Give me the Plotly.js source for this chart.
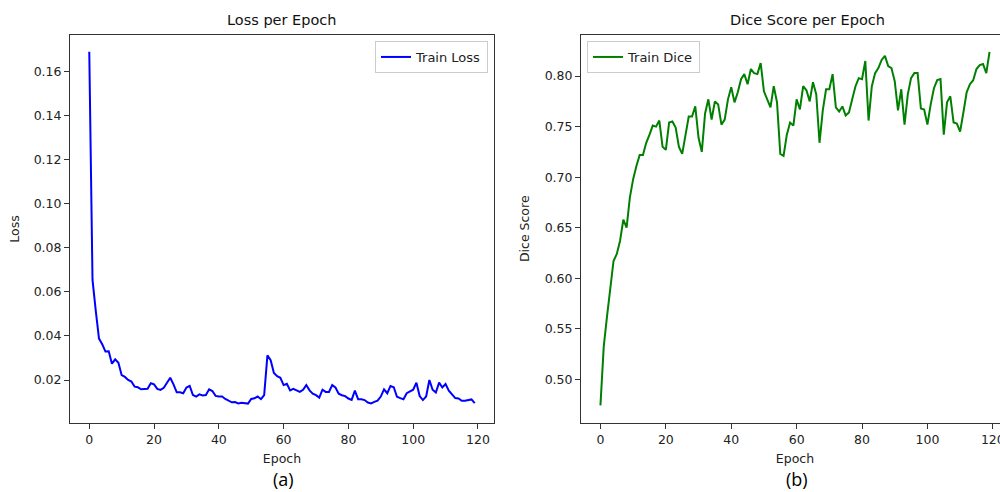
<!DOCTYPE html>
<html>
<head>
<meta charset="utf-8">
<script src="https://cdn.plot.ly/plotly-3.0.1.min.js"></script>
<style>
html,body{margin:0;padding:0;overflow:hidden;background:#fff;}
#chart{width:1020px;height:492px;}
</style>
</head>
<body>
<div id="chart"></div>
<script>
// Data (epochs 0..119)
const trainLoss = [
  0.1689, 0.0654, 0.0515, 0.0388, 0.0362, 0.0329, 0.0330, 0.0274, 0.0294, 0.0278,
  0.0222, 0.0214, 0.0200, 0.0193, 0.0170, 0.0167, 0.0158, 0.0160, 0.0160, 0.0185,
  0.0180, 0.0160, 0.0155, 0.0165, 0.0185, 0.0210, 0.0180, 0.0144, 0.0144, 0.0140,
  0.0166, 0.0173, 0.0132, 0.0125, 0.0135, 0.0130, 0.0132, 0.0158, 0.0150, 0.0128,
  0.0125, 0.0125, 0.0114, 0.0107, 0.0099, 0.0100, 0.0094, 0.0097, 0.0094, 0.0093,
  0.0114, 0.0117, 0.0125, 0.0113, 0.0132, 0.0312, 0.0290, 0.0232, 0.0217, 0.0210,
  0.0177, 0.0183, 0.0153, 0.0160, 0.0153, 0.0146, 0.0156, 0.0177, 0.0153, 0.0138,
  0.0131, 0.0120, 0.0156, 0.0146, 0.0146, 0.0177, 0.0166, 0.0138, 0.0131, 0.0127,
  0.0116, 0.0110, 0.0152, 0.0113, 0.0113, 0.0109, 0.0098, 0.0094, 0.0101, 0.0106,
  0.0125, 0.0158, 0.0140, 0.0173, 0.0167, 0.0124, 0.0118, 0.0113, 0.0140, 0.0150,
  0.0156, 0.0188, 0.0127, 0.0109, 0.0125, 0.0200, 0.0156, 0.0143, 0.0188, 0.0166,
  0.0182, 0.0152, 0.0133, 0.0118, 0.0116, 0.0106, 0.0106, 0.0109, 0.0112, 0.0095
];
const trainDice = [
  0.474, 0.532, 0.562, 0.588, 0.617, 0.624, 0.637, 0.658, 0.650, 0.680,
  0.698, 0.711, 0.722, 0.722, 0.734, 0.742, 0.751, 0.750, 0.756, 0.730,
  0.727, 0.754, 0.755, 0.749, 0.730, 0.723, 0.741, 0.760, 0.760, 0.770,
  0.739, 0.725, 0.763, 0.777, 0.757, 0.775, 0.772, 0.752, 0.757, 0.777,
  0.789, 0.774, 0.784, 0.797, 0.802, 0.792, 0.807, 0.803, 0.802, 0.813,
  0.785, 0.777, 0.769, 0.790, 0.774, 0.723, 0.721, 0.742, 0.754, 0.751,
  0.777, 0.767, 0.790, 0.786, 0.775, 0.794, 0.782, 0.734, 0.766, 0.787,
  0.787, 0.802, 0.769, 0.765, 0.770, 0.761, 0.764, 0.777, 0.790, 0.798,
  0.797, 0.815, 0.756, 0.790, 0.803, 0.808, 0.816, 0.820, 0.810, 0.808,
  0.795, 0.766, 0.787, 0.752, 0.782, 0.798, 0.803, 0.803, 0.768, 0.767,
  0.752, 0.772, 0.788, 0.796, 0.797, 0.742, 0.774, 0.780, 0.754, 0.753,
  0.745, 0.764, 0.784, 0.792, 0.796, 0.807, 0.811, 0.812, 0.803, 0.824
];
const epochs = trainLoss.map((_, i) => i);
const lossTicks = [0.02, 0.04, 0.06, 0.08, 0.10, 0.12, 0.14, 0.16];
const diceTicks = [0.50, 0.55, 0.60, 0.65, 0.70, 0.75, 0.80];
const epochTicks = [0, 20, 40, 60, 80, 100, 120];

const W = 1020, H = 492;
const FONT = 'DejaVu Sans, sans-serif';
const fx = px => px / W;
const fy = py => 1 - py / H;

const axisCommon = {
  showline: true, mirror: true, linecolor: '#333', linewidth: 1,
  ticks: 'outside', ticklen: 5, tickwidth: 1, tickcolor: '#333',
  showgrid: false, zeroline: false,
  tickfont: {family: FONT, size: 12.5, color: '#222'},
  automargin: false
};
const axTitleFont = {family: FONT, size: 12.5, color: '#222'};

const traces = [
  {x: epochs, y: trainLoss, type: 'scatter', mode: 'lines', name: 'Train Loss',
   line: {color: '#0000ff', width: 2}, xaxis: 'x', yaxis: 'y', legend: 'legend', showlegend: true},
  {x: epochs, y: trainDice, type: 'scatter', mode: 'lines', name: 'Train Dice',
   line: {color: '#008000', width: 2}, xaxis: 'x2', yaxis: 'y2', legend: 'legend2', showlegend: true}
];

const layout = {
  width: W, height: H,
  showlegend: true,
  margin: {l: 0, r: 0, t: 0, b: 0},
  paper_bgcolor: '#fff', plot_bgcolor: '#fff',
  font: {family: FONT, color: '#222'},
  xaxis: Object.assign({}, axisCommon, {
    domain: [fx(70), fx(494)], range: [-5.95, 124.95], anchor: 'y',
    tickvals: epochTicks,
    title: {text: 'Epoch', font: axTitleFont, standoff: 8}
  }),
  yaxis: Object.assign({}, axisCommon, {
    domain: [fy(423), fy(35)], range: [0.0005, 0.1765], anchor: 'x',
    tickvals: lossTicks, tickformat: '.2f',
    title: {text: 'Loss', font: axTitleFont, standoff: 11}
  }),
  xaxis2: Object.assign({}, axisCommon, {
    domain: [fx(581), fx(1009)], range: [-5.95, 124.95], anchor: 'y2',
    tickvals: epochTicks,
    title: {text: 'Epoch', font: axTitleFont, standoff: 8}
  }),
  yaxis2: Object.assign({}, axisCommon, {
    domain: [fy(423), fy(34.5)], range: [0.4566, 0.8412], anchor: 'x2',
    tickvals: diceTicks, tickformat: '.2f',
    title: {text: 'Dice Score', font: axTitleFont, standoff: 12}
  }),
  legend: {
    x: fx(488), y: fy(41), xanchor: 'right', yanchor: 'top',
    bgcolor: 'rgba(255,255,255,0.8)', bordercolor: '#ccc', borderwidth: 1,
    font: {family: FONT, size: 13, color: '#222'}, visible: true
  },
  legend2: {
    x: fx(587), y: fy(41), xanchor: 'left', yanchor: 'top',
    bgcolor: 'rgba(255,255,255,0.8)', bordercolor: '#ccc', borderwidth: 1,
    font: {family: FONT, size: 13, color: '#222'}, visible: true
  },
  annotations: [
    {text: 'Loss per Epoch', x: fx(282), y: fy(20), xref: 'paper', yref: 'paper',
     showarrow: false, xanchor: 'center', yanchor: 'middle',
     font: {family: FONT, size: 14.5, color: '#111'}},
    {text: 'Dice Score per Epoch', x: fx(807), y: fy(20), xref: 'paper', yref: 'paper',
     showarrow: false, xanchor: 'center', yanchor: 'middle',
     font: {family: FONT, size: 14.5, color: '#111'}},
    {text: '(a)', x: fx(283), y: fy(479), xref: 'paper', yref: 'paper',
     showarrow: false, xanchor: 'center', yanchor: 'middle',
     font: {family: 'Open Sans, sans-serif', size: 18, color: '#000'}},
    {text: '(b)', x: fx(797), y: fy(479), xref: 'paper', yref: 'paper',
     showarrow: false, xanchor: 'center', yanchor: 'middle',
     font: {family: 'Open Sans, sans-serif', size: 18, color: '#000'}}
  ]
};

Plotly.newPlot('chart', traces, layout, {displayModeBar: false, staticPlot: true});
</script>
</body>
</html>
